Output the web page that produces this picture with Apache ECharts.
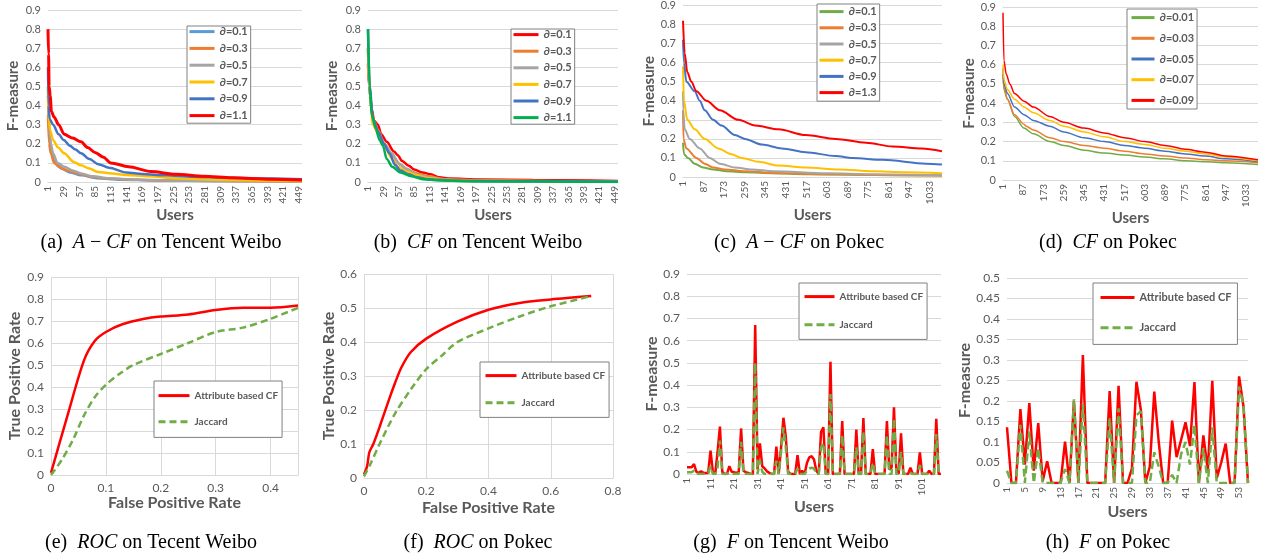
<!DOCTYPE html>
<html>
<head>
<meta charset="utf-8">
<script src="https://cdn.jsdelivr.net/npm/echarts/dist/echarts.min.js"></script>
<style>
html, body { margin: 0; padding: 0; background: #fff; }
#chart { width: 1266px; height: 556px; }
</style>
</head>
<body>
<div id="chart"></div>
<script>
// category labels (users 1..N)
function users(n) {
    var a = [];
    for (var i = 1; i <= n; i++) a.push(String(i));
    return a;
}
var usersTW = users(455);   // (a) (b)
var usersPK = users(1085);  // (c) (d)
var usersG = users(109);    // (g)
var usersH = users(55);     // (h)

// (a) A-CF on Tencent Weibo : [user, F-measure]
var a01 = [[1,0.45],[3,0.25],[8,0.15],[15,0.1],[25,0.07],[40,0.05],[60,0.035],[90,0.02],[130,0.012],[200,0.008],[300,0.005],[455,0.004]];
var a03 = [[1,0.35],[3,0.2],[6,0.15],[12,0.1],[20,0.08],[35,0.06],[55,0.045],[75,0.03],[100,0.02],[140,0.013],[200,0.008],[300,0.005],[455,0.003]];
var a05 = [[1,0.5],[3,0.3],[6,0.2],[10,0.15],[18,0.1],[30,0.08],[45,0.06],[60,0.045],[80,0.03],[110,0.02],[160,0.012],[250,0.007],[350,0.005],[455,0.003]];
var a07 = [[1,0.5],[2,0.35],[5,0.27],[10,0.22],[19,0.18],[30,0.15],[47,0.105],[60,0.087],[75,0.07],[91,0.052],[116,0.044],[140,0.037],[180,0.03],[230,0.02],[300,0.012],[380,0.008],[455,0.005]];
var a09 = [[1,0.6],[2,0.4],[4,0.33],[10,0.3],[20,0.25],[29,0.22],[40,0.19],[50,0.17],[60,0.15],[75,0.12],[91,0.093],[110,0.075],[141,0.05],[170,0.042],[210,0.035],[260,0.028],[320,0.022],[400,0.018],[455,0.015]];
var a11 = [[1,0.8],[2,0.67],[3,0.5],[5,0.45],[7,0.37],[12,0.34],[20,0.3],[30,0.25],[45,0.23],[60,0.21],[72,0.18],[85,0.155],[100,0.13],[113,0.1],[145,0.08],[185,0.055],[230,0.04],[280,0.03],[330,0.022],[400,0.015],[455,0.01]];

// (b) CF on Tencent Weibo
var b01 = [[1,0.62],[3,0.5],[8,0.38],[12,0.32],[19,0.3],[25,0.25],[35,0.21],[48,0.16],[55,0.14],[63,0.11],[75,0.085],[85,0.065],[100,0.05],[115,0.04],[130,0.025],[150,0.018],[200,0.013],[300,0.01],[455,0.005]];
var b03 = [[1,0.7],[4,0.45],[10,0.33],[20,0.27],[30,0.2],[45,0.14],[60,0.09],[75,0.06],[90,0.045],[110,0.03],[140,0.015],[200,0.008],[300,0.005],[455,0.003]];
var b05 = [[1,0.7],[4,0.45],[10,0.32],[20,0.26],[30,0.2],[45,0.15],[55,0.1],[70,0.07],[90,0.04],[110,0.025],[140,0.012],[200,0.006],[455,0.002]];
var b07 = [[1,0.7],[4,0.48],[10,0.3],[20,0.25],[30,0.19],[45,0.12],[55,0.08],[70,0.055],[90,0.035],[110,0.02],[150,0.01],[250,0.005],[455,0.002]];
var b09 = [[1,0.8],[4,0.5],[10,0.33],[20,0.26],[30,0.2],[40,0.15],[50,0.09],[60,0.06],[75,0.04],[90,0.025],[110,0.015],[150,0.008],[250,0.004],[455,0.002]];
var b11 = [[1,0.8],[4,0.5],[8,0.35],[15,0.28],[22,0.22],[28,0.19],[35,0.12],[45,0.08],[60,0.05],[80,0.03],[100,0.015],[130,0.008],[200,0.003],[455,0]];

// (c) A-CF on Pokec
var c01 = [[1,0.18],[5,0.12],[22,0.1],[50,0.07],[85,0.05],[127,0.04],[183,0.03],[260,0.025],[380,0.02],[520,0.015],[800,0.01],[1085,0.008]];
var c03 = [[1,0.35],[3,0.2],[15,0.15],[57,0.1],[92,0.07],[127,0.05],[176,0.04],[260,0.03],[401,0.02],[600,0.015],[800,0.01],[1085,0.008]];
var c05 = [[1,0.45],[2,0.35],[8,0.25],[29,0.2],[71,0.15],[113,0.1],[155,0.07],[218,0.05],[290,0.04],[380,0.03],[600,0.02],[800,0.015],[1085,0.01]];
var c07 = [[1,0.58],[5,0.4],[19,0.3],[50,0.25],[92,0.2],[148,0.15],[204,0.12],[246,0.1],[317,0.08],[401,0.06],[514,0.05],[654,0.04],[794,0.03],[930,0.025],[1085,0.02]];
var c09 = [[1,0.72],[5,0.6],[15,0.5],[50,0.45],[71,0.4],[92,0.35],[127,0.3],[162,0.27],[218,0.22],[260,0.2],[331,0.17],[415,0.15],[514,0.13],[640,0.11],[710,0.1],[837,0.09],[1019,0.07],[1085,0.065]];
var c13 = [[1,0.82],[8,0.65],[19,0.55],[36,0.5],[57,0.45],[99,0.4],[155,0.35],[233,0.3],[303,0.27],[401,0.25],[514,0.22],[640,0.2],[767,0.18],[879,0.16],[1000,0.15],[1085,0.135]];

// (d) CF on Pokec
var d001 = [[1,0.55],[5,0.47],[20,0.42],[50,0.33],[90,0.27],[130,0.24],[200,0.2],[260,0.18],[345,0.155],[431,0.14],[517,0.13],[603,0.12],[689,0.11],[775,0.1],[861,0.095],[947,0.09],[1085,0.08]];
var d003 = [[1,0.55],[5,0.48],[20,0.42],[50,0.34],[90,0.29],[100,0.28],[130,0.26],[200,0.22],[260,0.2],[345,0.18],[431,0.165],[517,0.15],[603,0.135],[689,0.125],[775,0.115],[861,0.105],[947,0.1],[1085,0.09]];
var d005 = [[1,0.58],[5,0.5],[20,0.45],[50,0.38],[90,0.34],[130,0.31],[200,0.28],[260,0.25],[345,0.22],[431,0.2],[517,0.18],[603,0.165],[689,0.15],[775,0.135],[861,0.125],[947,0.11],[1085,0.095]];
var d007 = [[1,0.6],[5,0.52],[20,0.47],[50,0.42],[90,0.38],[130,0.35],[200,0.31],[260,0.28],[345,0.25],[431,0.225],[517,0.2],[603,0.185],[689,0.165],[775,0.15],[861,0.135],[947,0.12],[1085,0.1]];
var d009 = [[1,0.87],[5,0.62],[15,0.55],[30,0.5],[50,0.45],[90,0.41],[130,0.38],[200,0.33],[260,0.3],[345,0.27],[431,0.245],[517,0.22],[603,0.2],[689,0.18],[775,0.16],[861,0.145],[947,0.125],[1085,0.105]];

// (e) ROC on Tencent Weibo : [FPR, TPR]
var eAttr = [[0,0.01],[0.03,0.27],[0.06,0.52],[0.08,0.61],[0.1,0.65],[0.13,0.685],[0.17,0.71],[0.2,0.72],[0.25,0.73],[0.3,0.75],[0.35,0.76],[0.4,0.76],[0.45,0.77]];
var eJac = [[0,0],[0.02,0.07],[0.04,0.16],[0.06,0.27],[0.08,0.355],[0.1,0.41],[0.125,0.46],[0.15,0.5],[0.2,0.55],[0.25,0.6],[0.3,0.65],[0.35,0.67],[0.4,0.71],[0.45,0.76]];

// (f) ROC on Pokec
var fAttr = [[0,0.01],[0.01,0.035],[0.017,0.075],[0.03,0.1],[0.05,0.15],[0.08,0.23],[0.1,0.28],[0.12,0.325],[0.15,0.37],[0.2,0.41],[0.3,0.46],[0.4,0.495],[0.5,0.515],[0.6,0.525],[0.73,0.535]];
var fJac = [[0,0.005],[0.02,0.04],[0.05,0.1],[0.1,0.19],[0.15,0.26],[0.2,0.32],[0.25,0.36],[0.3,0.4],[0.4,0.44],[0.5,0.475],[0.6,0.505],[0.73,0.535]];

// (g) F on Tencent Weibo, one value per user
var gAttr = [0.03,0.03,0.03,0.045,0.01,0.005,0.012,0.005,0.005,0.005,
    0.105,0.01,0,0.1,0.213,0.01,0,0,0.035,0.01,
    0.008,0.005,0.01,0.205,0.015,0.008,0.005,0,0,0.67,
    0.02,0.138,0.035,0.025,0.012,0.005,0,0,0.123,0,
    0.12,0.253,0.17,0.01,0,0,0,0.085,0,0.015,
    0,0.05,0.075,0.08,0.065,0.015,0,0.19,0.21,0,
    0,0.505,0,0,0,0,0.238,0,0,0,
    0,0,0.2,0,0,0.252,0,0,0,0.112,
    0,0,0,0,0,0.238,0.02,0.03,0.3,0.02,
    0,0.183,0,0,0,0.028,0,0,0,0.097,
    0,0,0,0.015,0,0,0.248,0,0];
var gJac = [0.008,0.008,0.008,0.015,0,0,0,0,0,0,
    0.035,0,0,0.03,0.15,0,0,0,0.005,0,
    0,0,0,0.145,0,0,0,0,0,0.5,
    0,0.06,0.01,0,0,0,0,0,0.06,0,
    0.1,0.21,0.12,0,0,0,0,0.025,0,0,
    0,0.015,0.025,0.028,0.025,0,0,0.12,0.14,0,
    0,0.36,0,0,0,0,0.175,0,0,0,
    0,0,0.12,0,0,0.19,0,0,0,0.05,
    0,0,0,0,0,0.175,0,0,0.25,0,
    0,0.1,0,0,0,0.005,0,0,0,0.04,
    0,0,0,0,0,0,0.18,0,0];

// (h) F on Pokec
var hAttr = [0.136,0,0,0.18,0.045,0.195,0.03,0.146,0.005,0.053,
    0,0,0,0.101,0,0.2,0,0.312,0,0,
    0,0,0,0.224,0,0.237,0,0,0.036,0.247,
    0.178,0,0.04,0.223,0.1,0,0,0.152,0.063,0.105,
    0.148,0.09,0.246,0,0.116,0.03,0.249,0.012,0.05,0.096,
    0,0,0.26,0.186,0];
var hJac = [0.03,0,0,0.142,0,0.126,0,0.085,0,0,
    0,0,0,0.034,0,0.204,0,0.193,0,0,
    0,0,0,0.158,0,0.182,0,0,0,0.165,
    0.175,0,0,0.075,0.04,0,0,0.02,0,0.07,
    0.1,0.045,0.142,0,0.085,0,0.136,0,0,0,
    0,0,0.235,0.19,0];

var GRAY = '#595959';
var GRID = '#d9d9d9';
var FONT = 'Lato';
var BLUE_L = '#5B9BD5', ORANGE = '#ED7D31', GREY = '#A5A5A5', YELLOW = '#FFC000',
    BLUE = '#4472C4', RED = '#FF0000', GREEN = '#70AD47', GREEN2 = '#00B050';

var grids = [
    { left: 48, top: 10, width: 254, height: 172 },   // a
    { left: 368, top: 10, width: 250, height: 172 },  // b
    { left: 683, top: 5, width: 259, height: 172 },   // c
    { left: 1003, top: 7, width: 255, height: 173 },  // d
    { left: 51, top: 277, width: 247, height: 198 },  // e
    { left: 364, top: 274, width: 249, height: 204 }, // f
    { left: 687, top: 274, width: 254, height: 200 }, // g
    { left: 1007, top: 278, width: 241, height: 205 } // h
];

function nameStyle(size) {
    return { fontFamily: FONT, fontWeight: 'bold', fontSize: size, color: GRAY };
}

function catAxis(gi, cats, every, gap, size) {
    return {
        type: 'category', gridIndex: gi, data: cats, boundaryGap: false,
        name: 'Users', nameLocation: 'middle', nameGap: gap, nameTextStyle: nameStyle(size),
        axisLine: { lineStyle: { color: GRID } },
        axisTick: { show: false },
        axisLabel: { interval: every - 1, rotate: 90, fontFamily: FONT, fontSize: 10, color: GRAY, margin: 4 },
        splitLine: { show: false }
    };
}

function valAxis(gi, max, step, name, gap, size, nsize) {
    return {
        type: 'value', gridIndex: gi, min: 0, max: max, interval: step,
        name: name, nameLocation: 'middle', nameGap: gap, nameTextStyle: nameStyle(nsize || 15),
        axisLine: { show: false },
        axisTick: { show: false },
        axisLabel: { fontFamily: FONT, fontSize: size, color: GRAY, margin: 7 },
        splitLine: { show: true, lineStyle: { color: GRID } }
    };
}

function fpAxis(gi, max, step, gap, showMax) {
    var ax = valAxis(gi, max, step, 'False Positive Rate', gap, 12, 16);
    ax.axisLine = { show: true, lineStyle: { color: GRID } };
    ax.axisLabel.showMaxLabel = showMax;
    return ax;
}

var series = [];
// smooth curve from [user or x, value] key points
function curve(gi, key, label, pts, color, width, dash, isCat) {
    series.push({
        name: key + '|' + label,
        type: 'line', xAxisIndex: gi, yAxisIndex: gi,
        data: isCat ? pts.map(function (p) { return [p[0] - 1, p[1]]; }) : pts,
        symbol: 'none', smooth: 0.3, smoothMonotone: isCat ? 'x' : null,
        lineStyle: { color: color, width: width, type: dash || 'solid' },
        itemStyle: { color: color },
        animation: false
    });
}
// straight polyline, one value per user
function spikes(gi, key, label, vals, color, width, dash) {
    series.push({
        name: key + '|' + label,
        type: 'line', xAxisIndex: gi, yAxisIndex: gi,
        data: vals, symbol: 'none',
        lineStyle: { color: color, width: width, type: dash || 'solid' },
        itemStyle: { color: color },
        animation: false
    });
}

curve(0, 'a', '∂=0.1', a01, BLUE_L, 2.5, null, true);
curve(0, 'a', '∂=0.3', a03, ORANGE, 2.5, null, true);
curve(0, 'a', '∂=0.5', a05, GREY, 2.5, null, true);
curve(0, 'a', '∂=0.7', a07, YELLOW, 2.5, null, true);
curve(0, 'a', '∂=0.9', a09, BLUE, 2.5, null, true);
curve(0, 'a', '∂=1.1', a11, RED, 3, null, true);

curve(1, 'b', '∂=0.1', b01, RED, 2.5, null, true);
curve(1, 'b', '∂=0.3', b03, ORANGE, 2.5, null, true);
curve(1, 'b', '∂=0.5', b05, GREY, 2.5, null, true);
curve(1, 'b', '∂=0.7', b07, YELLOW, 2.5, null, true);
curve(1, 'b', '∂=0.9', b09, BLUE, 2.5, null, true);
curve(1, 'b', '∂=1.1', b11, GREEN2, 2.5, null, true);

curve(2, 'c', '∂=0.1', c01, GREEN, 2, null, true);
curve(2, 'c', '∂=0.3', c03, ORANGE, 2, null, true);
curve(2, 'c', '∂=0.5', c05, GREY, 2, null, true);
curve(2, 'c', '∂=0.7', c07, YELLOW, 2, null, true);
curve(2, 'c', '∂=0.9', c09, BLUE, 2, null, true);
curve(2, 'c', '∂=1.3', c13, RED, 2, null, true);

curve(3, 'd', '∂=0.01', d001, GREEN, 1.5, null, true);
curve(3, 'd', '∂=0.03', d003, ORANGE, 1.5, null, true);
curve(3, 'd', '∂=0.05', d005, BLUE, 1.5, null, true);
curve(3, 'd', '∂=0.07', d007, YELLOW, 1.5, null, true);
curve(3, 'd', '∂=0.09', d009, RED, 1.5, null, true);

curve(4, 'e', 'Attribute based CF', eAttr, RED, 2.5);
curve(4, 'e', 'Jaccard', eJac, GREEN, 2.5, [7, 4]);
curve(5, 'f', 'Attribute based CF', fAttr, RED, 2.5);
curve(5, 'f', 'Jaccard', fJac, GREEN, 2.5, [7, 4]);

spikes(6, 'g', 'Attribute based CF', gAttr, RED, 2.5);
spikes(6, 'g', 'Jaccard', gJac, GREEN, 2.5, [8, 4]);
spikes(7, 'h', 'Attribute based CF', hAttr, RED, 2.5);
spikes(7, 'h', 'Jaccard', hJac, GREEN, 2.5, [8, 4]);

function legendBox(key, left, top, itemWidth, gap, pad, size, lw) {
    return {
        left: left, top: top, orient: 'vertical',
        data: series.filter(function (s) { return s.name.indexOf(key + '|') === 0; }).map(function (s) { return s.name; }),
        formatter: function (n) { return n.split('|')[1]; },
        itemWidth: itemWidth, itemHeight: 14, itemGap: gap, padding: pad,
        backgroundColor: '#fff', borderColor: '#808080', borderWidth: 1, borderRadius: 0,
        itemStyle: { opacity: 0 },
        lineStyle: { width: lw },
        textStyle: { fontFamily: FONT, fontWeight: 'bold', fontSize: size, color: GRAY },
        selectedMode: false
    };
}

// captions under each panel
var serif = '"Liberation Serif", "DejaVu Serif", serif';
function caption(x, y, parts) {
    var txt = parts.map(function (p) { return '{' + p[0] + '|' + p[1] + '}'; }).join('');
    return {
        type: 'text', x: x, y: y,
        style: {
            text: txt, textAlign: 'center', textVerticalAlign: 'middle',
            rich: {
                n: { font: '20px ' + serif, fill: '#000' },
                i: { font: 'italic 20px ' + serif, fill: '#000' }
            }
        }
    };
}

var option = {
    backgroundColor: '#fff',
    animation: false,
    grid: grids,
    xAxis: [
        catAxis(0, usersTW, 28, 18, 15),
        catAxis(1, usersTW, 28, 18, 15),
        catAxis(2, usersPK, 86, 19, 15),
        catAxis(3, usersPK, 86, 19, 15),
        fpAxis(4, 0.45, 0.1, 16, false),
        fpAxis(5, 0.8, 0.2, 22, true),
        catAxis(6, usersG, 10, 25, 16),
        catAxis(7, usersH, 4, 21, 16)
    ],
    yAxis: [
        valAxis(0, 0.9, 0.1, 'F-measure', 27, 11),
        valAxis(1, 0.9, 0.1, 'F-measure', 28, 11),
        valAxis(2, 0.9, 0.1, 'F-measure', 22, 11),
        valAxis(3, 0.9, 0.1, 'F-measure', 25, 11),
        valAxis(4, 0.9, 0.1, 'True Positive Rate', 28, 12, 16),
        valAxis(5, 0.6, 0.1, 'True Positive Rate', 23, 12, 16),
        valAxis(6, 0.9, 0.1, 'F-measure', 24, 12, 16),
        valAxis(7, 0.5, 0.05, 'F-measure', 28, 12, 16)
    ],
    legend: [
        legendBox('a', 187, 26, 25, 5.6, [0, 3, 2, 1], 11, 3),
        legendBox('b', 511, 29, 25, 5.4, [0, 3, 1, 1], 11, 3),
        legendBox('c', 817, 4, 24, 5, [2, 3, 3, 1], 11, 3),
        legendBox('d', 1127, 9, 23, 9.5, [3, 3, 3, 3], 11, 3),
        legendBox('e', 154, 381, 31, 15, [9, 4, 10, 3], 10, 3),
        legendBox('f', 480, 362, 31, 16, [8, 4, 9, 4], 10, 3),
        legendBox('g', 799, 283, 30, 17, [8, 4, 9, 4], 10, 3),
        legendBox('h', 1093, 283, 34, 19, [9, 6, 11, 6], 11, 3)
    ],
    graphic: [
        caption(161, 243, [['n', '(a)  '], ['i', 'A'], ['n', ' − '], ['i', 'CF'], ['n', ' on Tencent Weibo']]),
        caption(478, 243, [['n', '(b)  '], ['i', 'CF'], ['n', ' on Tencent Weibo']]),
        caption(799, 243, [['n', '(c)  '], ['i', 'A'], ['n', ' − '], ['i', 'CF'], ['n', ' on Pokec']]),
        caption(1108, 243, [['n', '(d)  '], ['i', 'CF'], ['n', ' on Pokec']]),
        caption(151, 543, [['n', '(e)  '], ['i', 'ROC'], ['n', ' on Tecent Weibo']]),
        caption(478, 543, [['n', '(f)  '], ['i', 'ROC'], ['n', ' on Pokec']]),
        caption(791, 543, [['n', '(g)  '], ['i', 'F'], ['n', ' on Tencent Weibo']]),
        caption(1108, 543, [['n', '(h)  '], ['i', 'F'], ['n', ' on Pokec']])
    ],
    series: series
};

var myChart = echarts.init(document.getElementById('chart'));
myChart.setOption(option);
</script>
</body>
</html>
